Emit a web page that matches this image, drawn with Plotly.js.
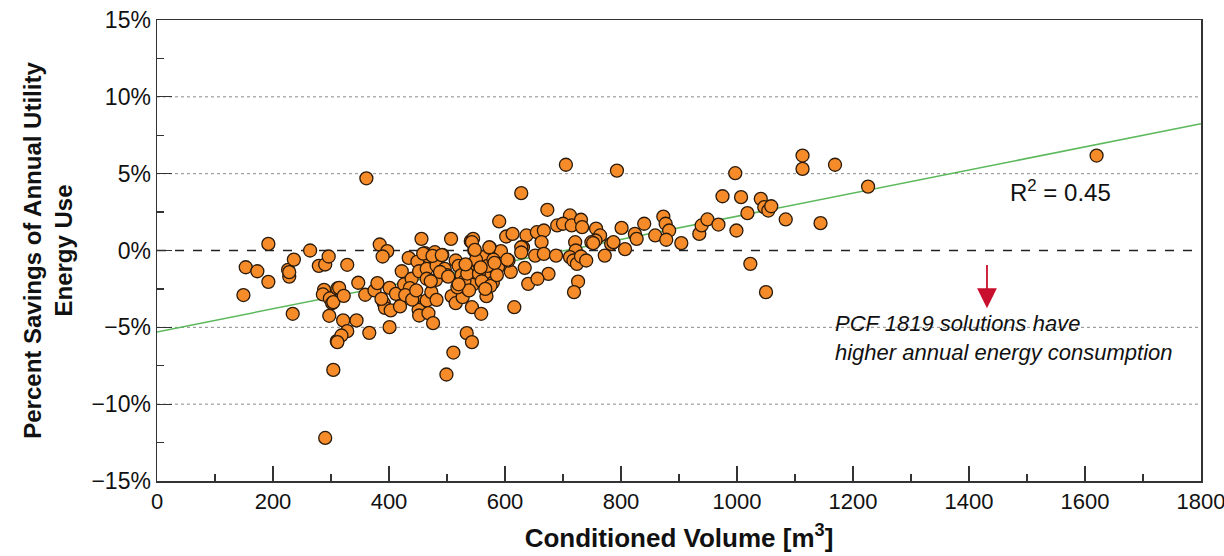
<!DOCTYPE html>
<html>
<head>
<meta charset="utf-8">
<script src="https://cdn.plot.ly/plotly-3.0.1.min.js"></script>
<style>html,body{margin:0;padding:0;background:#fff;}#chart{width:1224px;height:556px;}</style>
</head>
<body>
<div id="chart"></div>
<script>
// Conditioned volume [m3]
const volume = [
153,173,192,192,149,226,228,228,236,234,264,279,290,296,288,286,298,302,297,311,310,304,290,
328,304,314,322,321,344,328,318,311,361,347,359,366,375,380,384,397,389,391,393,387,401,403,401,
412,419,422,426,434,439,436,449,456,452,445,451,452,462,468,465,465,465,468,476,473,479,482,481,482,
492,496,507,508,515,511,499,527,525,534,534,541,545,547,543,534,543,559,540,545,551,556,563,544,568,
568,579,574,590,593,588,602,613,610,616,606,628,637,634,640,
705,793,673,712,690,700,715,731,733,757,764,756,749,783,801,807,824,827,840,859,873,877,883,878,904,
935,939,949,968,655,667,663,631,652,667,688,675,656,726,719,721,722,712,718,724,731,740,752,772,787,
1113,1113,1169,997,975,1007,1041,1047,1054,1059,1018,1084,1144,1226,999,1023,1050,1620,
543,628,628,515,520,525,530,535,550,555,560,570,575,580,586,548,573,604,459,475,491,
500,518,532,538,558,566,428,440,447,472,488,502,520,582
];
// Percent savings of annual utility energy use [%]
const savings = [
-1.09,-1.35,0.43,-2.04,-2.9,-1.26,-1.7,-1.41,-0.59,-4.12,0.0,-1.0,-0.91,-0.39,-2.56,-2.86,-3.12,-3.43,-4.25,-2.47,-5.9,-7.77,-12.2,
-0.93,-3.36,-2.43,-2.95,-4.55,-4.55,-5.25,-5.53,-5.96,4.7,-2.1,-2.88,-5.36,-2.6,-2.12,0.39,-0.04,-0.39,-3.43,-3.73,-3.15,-2.43,-3.9,-4.99,
-2.82,-3.64,-1.35,-2.21,-0.48,-1.84,-2.45,-0.72,0.76,-1.35,-3.04,-3.86,-4.23,-0.17,-0.39,-1.19,-1.84,-3.25,-4.08,-4.73,-2.71,-0.11,-0.98,-1.91,-3.21,
-0.28,-1.19,0.76,-2.97,-3.43,-6.64,-8.07,-3.04,-1.19,-1.3,-2.45,0.61,0.76,0.0,-3.69,-5.38,-5.96,-4.12,-1.95,-1.74,-1.3,-0.91,-0.43,-2.23,-1.74,
-2.97,-2.1,0.17,1.89,-0.04,-1.08,0.91,1.08,-1.39,-3.69,-0.65,3.73,0.98,-1.13,-2.17,
5.58,5.2,2.65,2.28,1.63,1.74,1.63,2.0,1.52,1.43,0.98,0.65,0.54,0.43,1.47,0.09,1.08,0.76,1.74,0.98,2.21,1.74,1.3,0.7,0.48,
1.08,1.63,2.02,1.69,1.19,1.3,0.54,0.21,-0.33,-0.22,-0.33,-1.52,-1.84,-2.02,-2.71,0.54,0.0,-0.43,-0.65,-0.87,-0.39,-0.65,0.48,-0.33,0.54,
6.18,5.31,5.58,5.03,3.53,3.47,3.36,2.82,2.6,2.88,2.43,2.02,1.78,4.16,1.3,-0.87,-2.71,6.18,
0.54,0.21,-0.13,-0.65,-1.0,-1.6,-2.0,-1.5,-0.6,-1.5,-2.0,-1.0,-2.3,-0.6,-1.6,0.04,0.21,-0.6,-0.2,-0.35,-0.3,
-1.6,-2.4,-0.9,-2.6,-1.1,-2.5,-2.9,-3.2,-2.6,-2.0,-1.4,-1.7,-2.2,-0.8
];
// Linear fit (R^2 = 0.45)
const trendX = [0, 1800];
const trendY = [-5.3, 8.25];

const yTicks = [-15, -10, -5, 0, 5, 10, 15];
const yTickText = ['\u221215%', '\u221210%', '\u22125%', '0%', '5%', '10%', '15%'];
const yGrid = [-10, -5, 5, 10];
const xTicks = [0, 200, 400, 600, 800, 1000, 1200, 1400, 1600, 1800];
const xTickText = ['0', '200', '400', '600', '800', '1000', '1200', '1400', '1600', '1800'];

const traces = [
  {x: trendX, y: trendY, mode: 'lines', type: 'scatter',
   line: {color: '#5cb85c', width: 1.5}, hoverinfo: 'skip', showlegend: false},
  {x: volume, y: savings, mode: 'markers', type: 'scatter',
   marker: {size: 13, color: '#f68b2a', line: {color: '#2a1a0a', width: 1.3}},
   showlegend: false}
];

const shapes = yGrid.map(v => ({
  type: 'line', xref: 'paper', yref: 'y', x0: 0, x1: 1, y0: v, y1: v,
  line: {color: '#8a8a8a', width: 1, dash: 'dot'}, layer: 'below'
}));
shapes.push({type: 'line', xref: 'paper', yref: 'y', x0: 0, x1: 1, y0: 0, y1: 0,
  line: {color: '#222', width: 1.4, dash: 'dash'}, layer: 'below'});

const FONT = 'Liberation Sans, Arial, sans-serif';

const layout = {
  width: 1224, height: 556,
  margin: {l: 157, r: 23, t: 20, b: 75},
  paper_bgcolor: '#ffffff', plot_bgcolor: '#ffffff',
  font: {family: FONT, color: '#111'},
  showlegend: false,
  xaxis: {
    range: [0, 1800.01], tickmode: 'array', tickvals: xTicks, ticktext: xTickText,
    ticklabeloverflow: 'allow',
    ticks: 'inside', ticklen: 15, tickwidth: 1.2, tickcolor: '#333',
    minor: {dtick: 100, ticks: 'inside', ticklen: 7, tickwidth: 1.2, tickcolor: '#333', showgrid: false},
    showgrid: false, zeroline: false,
    showline: true, linecolor: '#333', linewidth: 1.5, mirror: true,
    tickfont: {family: FONT, size: 22, color: '#111'},
    title: {text: '<b>Conditioned Volume [m<sup>3</sup>]</b>', standoff: 16,
            font: {family: FONT, size: 26, color: '#111'}}
  },
  yaxis: {
    range: [-15, 15], tickmode: 'array', tickvals: yTicks, ticktext: yTickText,
    ticks: 'inside', ticklen: 15, tickwidth: 1.2, tickcolor: '#333',
    minor: {dtick: 2.5, ticks: 'inside', ticklen: 7, tickwidth: 1.2, tickcolor: '#333', showgrid: false},
    showgrid: false, zeroline: false,
    showline: true, linecolor: '#333', linewidth: 1.5, mirror: true,
    tickfont: {family: FONT, size: 23, color: '#111'},
    title: {text: '<b>Percent Savings of Annual Utility<br>Energy Use</b>', standoff: 12,
            font: {family: FONT, size: 24, color: '#111'}}
  },
  shapes: shapes,
  annotations: [
    {x: 1557, y: 3.9, xref: 'x', yref: 'y', text: 'R<sup>2</sup> = 0.45', showarrow: false,
     font: {family: FONT, size: 24, color: '#111'}},
    {x: 1431, y: -3.75, xref: 'x', yref: 'y', ax: 1431, ay: -0.85, axref: 'x', ayref: 'y',
     text: '', showarrow: true, arrowhead: 2, arrowsize: 2.2, arrowwidth: 1.8, arrowcolor: '#c8102e'},
    {x: 1165, y: -5.7, xref: 'x', yref: 'y', xanchor: 'left', align: 'left', showarrow: false,
     text: '<i>PCF 1819 solutions have<br>higher annual energy consumption</i>',
     font: {family: FONT, size: 22, color: '#111'}}
  ]
};

Plotly.newPlot('chart', traces, layout, {staticPlot: true, displayModeBar: false});
</script>
</body>
</html>
